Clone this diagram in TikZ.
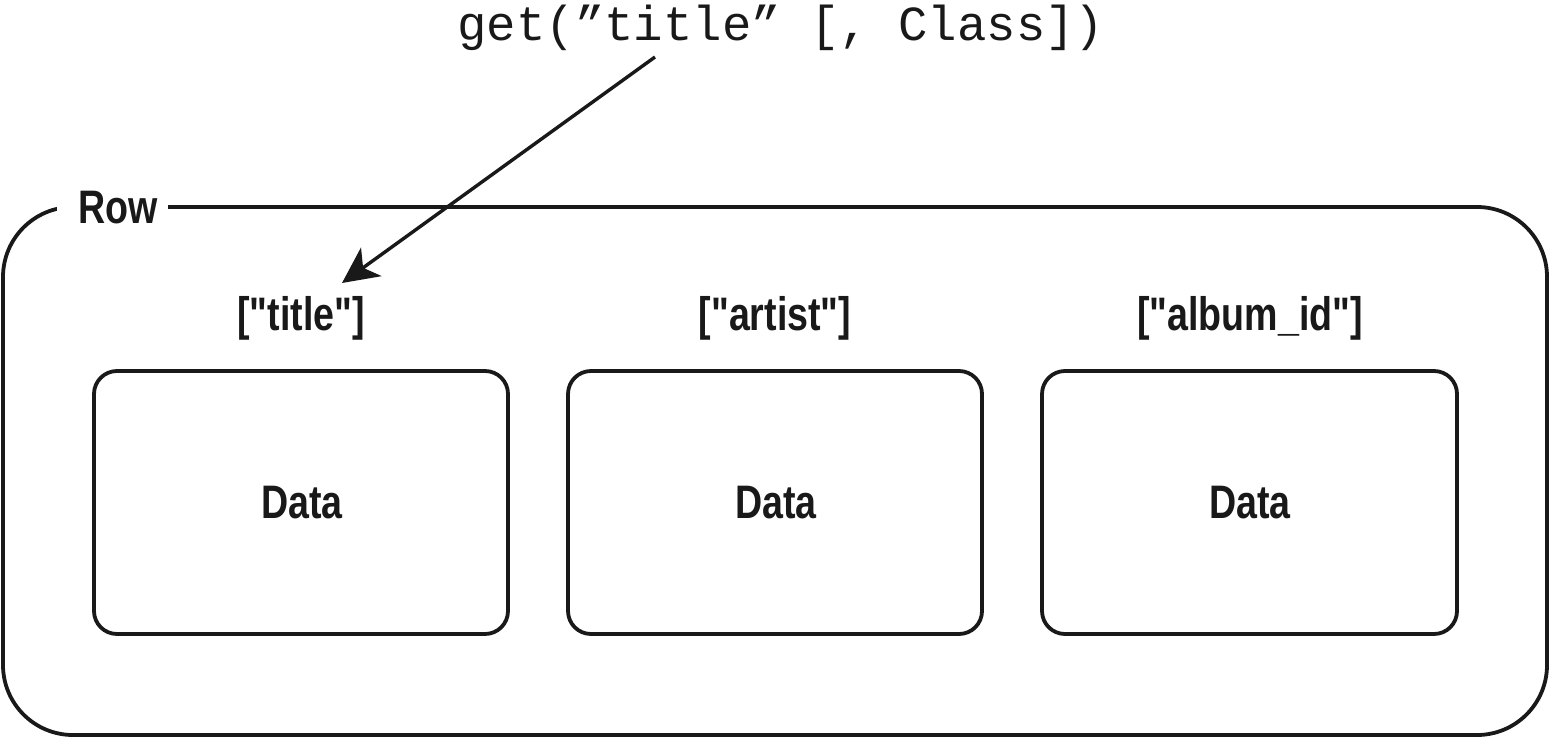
\documentclass[tikz,border=0pt]{standalone}
\usepackage{fontspec}
\setmainfont{Liberation Sans}[FakeStretch=0.8, UprightFont=* Bold, Ligatures=TeXOff]
\newfontfamily\codefont{Liberation Mono}
\usetikzlibrary{arrows.meta}
\tikzset{
  frame/.style={draw=black!90, line width=1.9pt, rounded corners=35pt},
  cell/.style={draw=black!90, line width=1.9pt, rounded corners=11.5pt, fill=white},
  sanslabel/.style={font=\fontsize{23.5pt}{26pt}\selectfont, text=black!90, inner sep=0pt, anchor=base},
  codelabel/.style={font=\codefont\fontsize{24.5pt}{28pt}\selectfont, text=black!90, inner sep=0pt, anchor=base},
  pointer/.style={draw=black!90, line width=1.7pt, -{Stealth[length=18pt, width=17.5pt, inset=5pt]}}
}
\begin{document}
\begin{tikzpicture}[x=0.5pt, y=-0.5pt]
  \useasboundingbox (0,0) rectangle (1550,738);
  % outer row frame
  \draw[frame] (3,207) rectangle (1547,735);
  \node[sanslabel, fill=white, inner ysep=6pt, inner xsep=0pt, anchor=base west] (row) at (57,223) {\kern10.5pt Row\kern5pt};
  % cells
  \draw[cell] (94,371) rectangle (508,634);
  \draw[cell] (568,371) rectangle (982,634);
  \draw[cell] (1042,371) rectangle (1457,634);
  \node[sanslabel] (k1) at (301,330) {["title"]};
  \node[sanslabel] (k2) at (775,330) {["artist"]};
  \node[sanslabel] (k3) at (1250,330) {["album\_id"]};
  \node[sanslabel] (d1) at (302,518) {Data};
  \node[sanslabel] (d2) at (776,518) {Data};
  \node[sanslabel] (d3) at (1250,518) {Data};
  % code call
  \node[codelabel] (call) at (781,41) {get(”title” [, Class])};
  \coordinate (from) at (655,57);
  \coordinate (to) at (342,283);
  \draw[pointer] (from) -- (to);
\end{tikzpicture}
\end{document}
